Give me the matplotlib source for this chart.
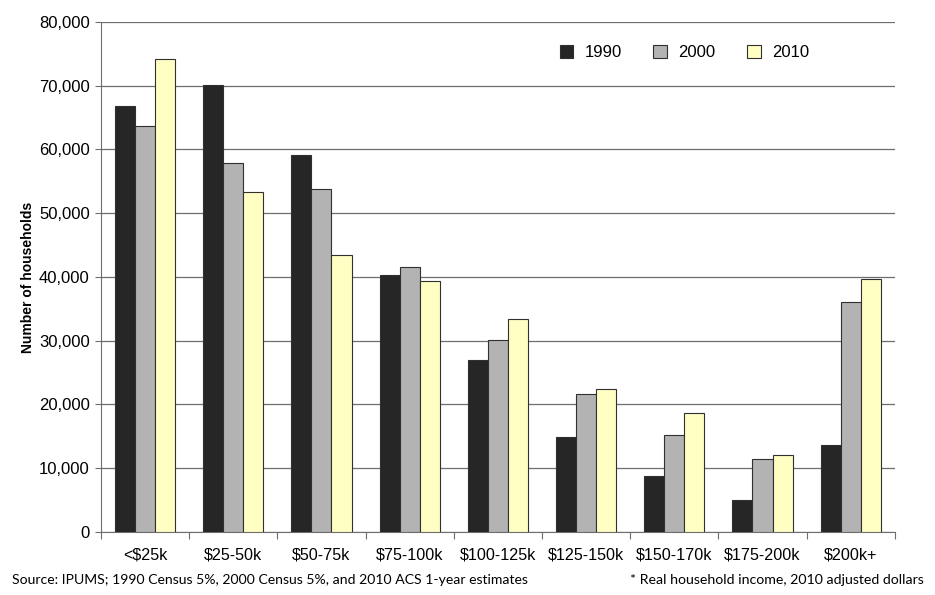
import numpy as np
from matplotlib import pyplot as plt

categories = ["<$25k", "$25-50k", "$50-75k", "$75-100k", "$100-125k",
              "$125-150k", "$150-170k", "$175-200k", "$200k+"]
years = ["1990", "2000", "2010"]
hh_1990 = [66800, 70100, 59100, 40300, 27000, 14900, 8700, 5000, 13700]
hh_2000 = [63700, 57900, 53800, 41600, 30100, 21600, 15200, 11500, 36000]
hh_2010 = [74200, 53300, 43400, 39400, 33400, 22400, 18600, 12100, 39700]
colors = ["#262626", "#b3b3b3", "#ffffc4"]

plt.rcParams['font.family'] = ['Liberation Sans', 'DejaVu Sans']

fig = plt.figure(figsize=(9.35, 5.95), dpi=100)
ax = fig.add_axes([0.108, 0.106, 0.849, 0.857])

x = np.arange(len(categories))
w = 0.227
for i, (vals, c, lab) in enumerate(zip([hh_1990, hh_2000, hh_2010], colors, years)):
    ax.bar(x + (i - 1) * w, vals, width=w, color=c, edgecolor="#303030",
           linewidth=0.8, label=lab, zorder=3)

ax.set_xlim(-0.5, len(categories) - 0.5)
ax.set_ylim(0, 80000)
ax.set_yticks(np.arange(0, 80001, 10000))
ax.set_yticklabels([f"{v:,}" for v in range(0, 80001, 10000)], fontsize=12)
ax.yaxis.grid(True, color="#6e6e6e", linewidth=0.9, zorder=0)
ax.tick_params(axis='y', length=4, color="#6e6e6e", pad=4)

ax.set_xticks(np.arange(-0.5, len(categories), 1.0))
ax.set_xticklabels([])
ax.set_xticks(x, minor=True)
ax.set_xticklabels(categories, minor=True, fontsize=11.6)
ax.tick_params(axis='x', which='major', length=5, color="#6e6e6e")
ax.tick_params(axis='x', which='minor', length=0, pad=11)

for s in ["top", "right"]:
    ax.spines[s].set_visible(False)
for s in ["left", "bottom"]:
    ax.spines[s].set_color("#6e6e6e")

ax.set_ylabel("Number of households", fontsize=10, fontweight="bold", labelpad=3)

ax.legend(loc="center", bbox_to_anchor=(0.735, 0.94), ncol=3, frameon=False,
          fontsize=12, handlelength=0.8, handleheight=0.8, columnspacing=1.9,
          handletextpad=0.7)

fig.text(0.013, 0.018, "Source: IPUMS; 1990 Census 5%, 2000 Census 5%, and 2010 ACS 1-year estimates",
         fontsize=10.1, family=['Lato', 'DejaVu Sans'])
fig.text(0.988, 0.018, "* Real household income, 2010 adjusted dollars",
         fontsize=10.2, ha="right", family=['Lato', 'DejaVu Sans'])

fig.savefig("out.png", dpi=100)
